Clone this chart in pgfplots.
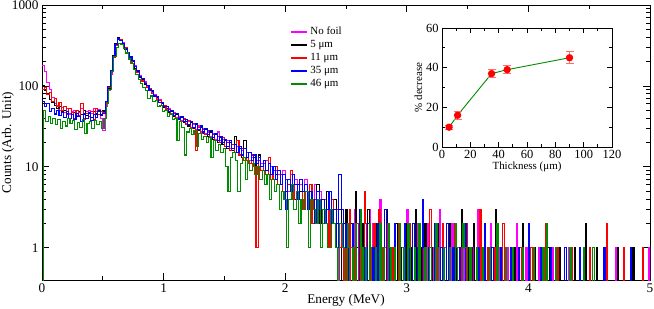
\documentclass[border=0pt]{standalone}
\usepackage{fontspec}
\setmainfont{Liberation Serif}
\usepackage{pgfplots}
\usepackage{pgfplotstable}
\pgfplotsset{compat=1.18}
\definecolor{gmag}{RGB}{255,0,255}
\definecolor{gred}{RGB}{255,0,0}
\definecolor{gblue}{RGB}{0,0,255}
\definecolor{ggreen}{RGB}{0,140,0}
\definecolor{errred}{RGB}{255,110,110}

% counts; 0.1 stands for an empty bin (drawn below the axis)
\pgfplotstableread[row sep=\\]{
x y\\
0.00 180\\ 0.02 150\\ 0.04 110\\ 0.06 90\\ 0.08 72\\ 0.10 60\\ 0.12 58\\ 0.14 50\\ 0.16 54\\ 0.18 47\\
0.20 52\\ 0.22 45\\ 0.24 48\\ 0.26 50\\ 0.28 43\\ 0.30 47\\ 0.32 52\\ 0.34 44\\ 0.36 48\\ 0.38 50\\
0.40 46\\ 0.42 53\\ 0.44 48\\ 0.46 51\\ 0.48 40\\ 0.50 28\\ 0.52 55\\ 0.54 88\\ 0.56 140\\ 0.58 225\\
0.60 320\\ 0.62 380\\ 0.64 375\\ 0.66 340\\ 0.68 300\\ 0.70 262\\ 0.72 230\\ 0.74 198\\ 0.76 178\\ 0.78 150\\
0.80 135\\ 0.82 118\\ 0.84 112\\ 0.86 97\\ 0.88 94\\ 0.90 84\\ 0.92 79\\ 0.94 71\\ 0.96 68\\ 0.98 58\\
1.00 57\\ 1.02 51\\ 1.04 52\\ 1.06 45\\ 1.08 47\\ 1.10 41\\ 1.12 42\\ 1.14 37\\ 1.16 40\\ 1.18 34\\
1.20 36\\ 1.22 31\\ 1.24 33\\ 1.26 29\\ 1.28 32\\ 1.30 27\\ 1.32 30\\ 1.34 26\\ 1.36 27\\ 1.38 24\\
1.40 26\\ 1.42 22\\ 1.44 27\\ 1.46 21\\ 1.48 22\\ 1.50 18\\ 1.52 21\\ 1.54 17\\ 1.56 19\\ 1.58 15\\
1.60 18\\ 1.62 14\\ 1.64 16\\ 1.66 13\\ 1.68 15\\ 1.70 12\\ 1.72 13\\ 1.74 11\\ 1.76 12\\ 1.78 10\\
1.80 11\\ 1.82 9\\ 1.84 12\\ 1.86 8\\ 1.88 10\\ 1.90 7\\ 1.92 9\\ 1.94 8\\ 1.96 6\\ 1.98 9\\
2.00 7\\ 2.02 5\\ 2.04 8\\ 2.06 6\\ 2.08 7\\ 2.10 4\\ 2.12 6\\ 2.14 5\\ 2.16 7\\ 2.18 3\\
2.20 5\\ 2.22 4\\ 2.24 6\\ 2.26 3\\ 2.28 5\\ 2.30 2\\ 2.32 4\\ 2.34 3\\ 2.36 5\\ 2.38 2\\
2.40 3\\ 2.42 1\\ 2.44 0.1\\ 2.46 3\\ 2.48 2\\
2.50 2\\ 2.52 0.1\\ 2.53 1\\ 2.55 0.1\\ 2.57 3\\ 2.58 0.1\\ 2.61 2\\ 2.62 1\\ 2.63 0.1\\ 2.66 1\\ 2.67 0.1\\
2.69 3\\ 2.70 0.1\\ 2.72 2\\ 2.73 0.1\\ 2.75 1\\ 2.76 0.1\\ 2.78 4\\ 2.79 0.1\\ 2.81 1\\ 2.83 0.1\\ 2.85 2\\ 2.86 0.1\\
2.89 1\\ 2.90 0.1\\ 2.92 2\\ 2.93 0.1\\ 2.96 1\\ 2.97 0.1\\ 3.00 3\\ 3.01 0.1\\ 3.04 1\\ 3.05 0.1\\ 3.08 2\\ 3.09 0.1\\
3.12 1\\ 3.13 0.1\\ 3.17 2\\ 3.18 0.1\\ 3.22 1\\ 3.23 0.1\\ 3.27 3\\ 3.28 0.1\\ 3.31 1\\ 3.33 0.1\\ 3.37 2\\ 3.38 0.1\\
3.42 1\\ 3.43 0.1\\ 3.47 2\\ 3.48 0.1\\ 3.52 1\\ 3.53 0.1\\ 3.58 3\\ 3.59 0.1\\ 3.63 1\\ 3.64 0.1\\ 3.69 2\\ 3.70 0.1\\
3.76 1\\ 3.77 0.1\\ 3.83 1\\ 3.84 0.1\\ 3.90 2\\ 3.91 0.1\\ 3.98 1\\ 3.99 0.1\\ 4.08 1\\ 4.09 0.1\\ 4.20 1\\ 4.21 0.1\\
4.33 1\\ 4.34 0.1\\ 4.47 1\\ 4.48 0.1\\ 4.72 1\\ 4.73 0.1\\ 4.99 1\\ 5.00 0.1\\
}\nofoil

\pgfplotstableread[row sep=\\]{
x y\\
0.00 100\\ 0.02 88\\ 0.04 80\\ 0.06 68\\ 0.08 62\\ 0.10 58\\ 0.12 52\\ 0.14 56\\ 0.16 48\\ 0.18 50\\
0.20 46\\ 0.22 52\\ 0.24 44\\ 0.26 47\\ 0.28 42\\ 0.30 48\\ 0.32 44\\ 0.34 50\\ 0.36 43\\ 0.38 46\\
0.40 41\\ 0.42 48\\ 0.44 45\\ 0.46 50\\ 0.48 44\\ 0.50 49\\ 0.52 60\\ 0.54 92\\ 0.56 150\\ 0.58 235\\
0.60 330\\ 0.62 395\\ 0.64 370\\ 0.66 330\\ 0.68 285\\ 0.70 258\\ 0.72 222\\ 0.74 200\\ 0.76 165\\ 0.78 150\\
0.80 128\\ 0.82 120\\ 0.84 104\\ 0.86 100\\ 0.88 88\\ 0.90 85\\ 0.92 74\\ 0.94 72\\ 0.96 63\\ 0.98 61\\
1.00 54\\ 1.02 53\\ 1.04 47\\ 1.06 48\\ 1.08 42\\ 1.10 44\\ 1.12 38\\ 1.14 41\\ 1.16 35\\ 1.18 36\\
1.20 32\\ 1.22 35\\ 1.24 30\\ 1.26 33\\ 1.28 28\\ 1.30 31\\ 1.32 26\\ 1.34 29\\ 1.36 24\\ 1.38 27\\
1.40 22\\ 1.42 25\\ 1.44 20\\ 1.46 23\\ 1.48 19\\ 1.50 21\\ 1.52 17\\ 1.54 20\\ 1.56 16\\ 1.58 24\\
1.60 15\\ 1.62 17\\ 1.64 13\\ 1.66 21\\ 1.68 12\\ 1.70 15\\ 1.72 11\\ 1.74 13\\ 1.76 10\\ 1.78 14\\
1.80 9\\ 1.82 12\\ 1.84 8\\ 1.86 11\\ 1.88 7\\ 1.90 10\\ 1.92 8\\ 1.94 9\\ 1.96 6\\ 1.98 8\\
2.00 5\\ 2.02 7\\ 2.04 6\\ 2.06 8\\ 2.08 4\\ 2.10 6\\ 2.12 5\\ 2.14 3\\ 2.16 6\\ 2.18 4\\
2.20 5\\ 2.22 3\\ 2.24 4\\ 2.26 6\\ 2.28 2\\ 2.30 4\\ 2.32 3\\ 2.34 5\\ 2.36 2\\ 2.38 3\\
2.40 4\\ 2.42 2\\ 2.44 3\\ 2.46 0.1\\ 2.48 2\\
2.50 3\\ 2.51 1\\ 2.52 0.1\\ 2.54 2\\ 2.55 0.1\\ 2.58 5\\ 2.59 1\\ 2.60 0.1\\ 2.63 2\\ 2.64 0.1\\ 2.67 1\\ 2.68 3\\ 2.69 0.1\\
2.71 1\\ 2.72 0.1\\ 2.74 2\\ 2.75 0.1\\ 2.79 1\\ 2.80 0.1\\ 2.83 3\\ 2.84 0.1\\ 2.87 1\\ 2.88 0.1\\ 2.91 2\\ 2.92 0.1\\
2.95 1\\ 2.96 0.1\\ 2.99 2\\ 3.00 0.1\\ 3.03 1\\ 3.04 0.1\\ 3.07 3\\ 3.08 0.1\\ 3.11 1\\ 3.12 0.1\\ 3.15 2\\ 3.16 0.1\\
3.20 1\\ 3.21 0.1\\ 3.25 2\\ 3.26 0.1\\ 3.30 1\\ 3.31 0.1\\ 3.35 2\\ 3.36 0.1\\ 3.41 1\\ 3.42 0.1\\ 3.45 3\\ 3.46 0.1\\
3.50 1\\ 3.51 0.1\\ 3.55 2\\ 3.56 0.1\\ 3.61 1\\ 3.62 0.1\\ 3.67 1\\ 3.68 0.1\\ 3.73 3\\ 3.74 0.1\\ 3.80 1\\ 3.81 0.1\\
3.88 1\\ 3.89 0.1\\ 3.95 2\\ 3.96 0.1\\ 4.05 1\\ 4.06 0.1\\ 4.16 1\\ 4.17 0.1\\ 4.25 1\\ 4.26 0.1\\ 4.38 1\\ 4.39 0.1\\
4.47 2\\ 4.48 0.1\\ 4.56 1\\ 4.57 0.1\\ 4.73 1\\ 4.74 0.1\\ 4.86 1\\ 4.87 0.1\\ 5.00 0.1\\
}\five

\pgfplotstableread[row sep=\\]{
x y\\
0.00 90\\ 0.02 95\\ 0.04 78\\ 0.06 82\\ 0.08 65\\ 0.10 70\\ 0.12 55\\ 0.14 62\\ 0.16 50\\ 0.18 56\\
0.20 44\\ 0.22 52\\ 0.24 47\\ 0.26 40\\ 0.28 50\\ 0.30 43\\ 0.32 60\\ 0.34 39\\ 0.36 46\\ 0.38 42\\
0.40 48\\ 0.42 38\\ 0.44 52\\ 0.46 44\\ 0.48 48\\ 0.50 47\\ 0.52 62\\ 0.54 95\\ 0.56 145\\ 0.58 228\\
0.60 318\\ 0.62 388\\ 0.64 372\\ 0.66 338\\ 0.68 295\\ 0.70 250\\ 0.72 232\\ 0.74 190\\ 0.76 175\\ 0.78 145\\
0.80 132\\ 0.82 115\\ 0.84 110\\ 0.86 95\\ 0.88 92\\ 0.90 80\\ 0.92 77\\ 0.94 68\\ 0.96 66\\ 0.98 57\\
1.00 58\\ 1.02 50\\ 1.04 51\\ 1.06 44\\ 1.08 46\\ 1.10 40\\ 1.12 41\\ 1.14 36\\ 1.16 39\\ 1.18 33\\
1.20 37\\ 1.22 30\\ 1.24 34\\ 1.26 16\\ 1.28 31\\ 1.30 26\\ 1.32 29\\ 1.34 25\\ 1.36 28\\ 1.38 23\\
1.40 25\\ 1.42 21\\ 1.44 24\\ 1.46 20\\ 1.48 23\\ 1.50 18\\ 1.52 20\\ 1.54 16\\ 1.56 19\\ 1.58 15\\
1.60 21\\ 1.62 14\\ 1.64 17\\ 1.66 12\\ 1.68 15\\ 1.70 11\\ 1.72 14\\ 1.74 10\\ 1.76 1\\ 1.78 12\\
1.80 9\\ 1.82 11\\ 1.84 8\\ 1.86 13\\ 1.88 7\\ 1.90 9\\ 1.92 10\\ 1.94 6\\ 1.96 8\\ 1.98 5\\
2.00 7\\ 2.02 6\\ 2.04 9\\ 2.06 4\\ 2.08 6\\ 2.10 5\\ 2.12 7\\ 2.14 3\\ 2.16 5\\ 2.18 4\\
2.20 6\\ 2.22 2\\ 2.24 4\\ 2.26 5\\ 2.28 3\\ 2.30 4\\ 2.32 2\\ 2.34 3\\ 2.36 1\\ 2.38 4\\
2.40 2\\ 2.42 3\\ 2.44 1\\ 2.46 2\\ 2.48 0.1\\
2.50 2\\ 2.51 0.1\\ 2.53 3\\ 2.54 0.1\\ 2.56 1\\ 2.57 0.1\\ 2.59 2\\ 2.60 0.1\\ 2.62 1\\ 2.63 0.1\\ 2.65 5\\ 2.66 2\\ 2.67 0.1\\
2.70 1\\ 2.71 0.1\\ 2.73 2\\ 2.74 0.1\\ 2.77 3\\ 2.78 0.1\\ 2.80 1\\ 2.81 0.1\\ 2.84 2\\ 2.85 0.1\\ 2.88 1\\ 2.89 0.1\\
2.93 2\\ 2.94 0.1\\ 2.97 1\\ 2.98 0.1\\ 3.02 2\\ 3.03 0.1\\ 3.06 1\\ 3.07 0.1\\ 3.10 2\\ 3.11 0.1\\ 3.14 1\\ 3.15 0.1\\
3.19 3\\ 3.20 0.1\\ 3.24 1\\ 3.25 0.1\\ 3.29 2\\ 3.30 0.1\\ 3.34 1\\ 3.35 0.1\\ 3.39 2\\ 3.40 0.1\\ 3.44 1\\ 3.45 0.1\\
3.49 2\\ 3.50 0.1\\ 3.54 1\\ 3.55 0.1\\ 3.60 3\\ 3.61 0.1\\ 3.66 1\\ 3.67 0.1\\ 3.72 1\\ 3.73 0.1\\ 3.79 2\\ 3.80 0.1\\
3.86 1\\ 3.87 0.1\\ 3.93 1\\ 3.94 0.1\\ 4.02 1\\ 4.03 0.1\\ 4.14 2\\ 4.15 0.1\\ 4.24 1\\ 4.25 0.1\\ 4.35 1\\ 4.36 0.1\\
4.50 1\\ 4.51 0.1\\ 4.64 2\\ 4.65 0.1\\ 4.78 1\\ 4.79 0.1\\ 4.94 1\\ 4.95 0.1\\ 5.00 0.1\\
}\eleven

\pgfplotstableread[row sep=\\]{
x y\\
0.00 65\\ 0.02 55\\ 0.04 60\\ 0.06 48\\ 0.08 52\\ 0.10 45\\ 0.12 50\\ 0.14 43\\ 0.16 47\\ 0.18 41\\
0.20 48\\ 0.22 40\\ 0.24 44\\ 0.26 38\\ 0.28 46\\ 0.30 42\\ 0.32 36\\ 0.34 45\\ 0.36 40\\ 0.38 47\\
0.40 37\\ 0.42 44\\ 0.44 41\\ 0.46 48\\ 0.48 43\\ 0.50 46\\ 0.52 64\\ 0.54 98\\ 0.56 155\\ 0.58 232\\
0.60 325\\ 0.62 380\\ 0.64 368\\ 0.66 330\\ 0.68 292\\ 0.70 262\\ 0.72 228\\ 0.74 205\\ 0.76 172\\ 0.78 155\\
0.80 130\\ 0.82 125\\ 0.84 106\\ 0.86 102\\ 0.88 89\\ 0.90 87\\ 0.92 75\\ 0.94 74\\ 0.96 63\\ 0.98 63\\
1.00 55\\ 1.02 55\\ 1.04 48\\ 1.06 50\\ 1.08 43\\ 1.10 46\\ 1.12 39\\ 1.14 42\\ 1.16 36\\ 1.18 38\\
1.20 33\\ 1.22 36\\ 1.24 31\\ 1.26 34\\ 1.28 29\\ 1.30 32\\ 1.32 27\\ 1.34 30\\ 1.36 25\\ 1.38 28\\
1.40 23\\ 1.42 26\\ 1.44 21\\ 1.46 24\\ 1.48 20\\ 1.50 22\\ 1.52 18\\ 1.54 21\\ 1.56 17\\ 1.58 19\\
1.60 15\\ 1.62 18\\ 1.64 14\\ 1.66 17\\ 1.68 13\\ 1.70 15\\ 1.72 12\\ 1.74 14\\ 1.76 11\\ 1.78 13\\
1.80 10\\ 1.82 12\\ 1.84 9\\ 1.86 11\\ 1.88 8\\ 1.90 10\\ 1.92 7\\ 1.94 9\\ 1.96 6\\ 1.98 8\\
2.00 3\\ 2.02 7\\ 2.04 5\\ 2.06 8\\ 2.08 6\\ 2.10 4\\ 2.12 7\\ 2.14 5\\ 2.16 6\\ 2.18 3\\
2.20 5\\ 2.22 4\\ 2.24 2\\ 2.26 5\\ 2.28 3\\ 2.30 4\\ 2.32 2\\ 2.34 3\\ 2.36 5\\ 2.38 2\\
2.40 3\\ 2.42 1\\ 2.44 8\\ 2.46 3\\ 2.48 1\\
2.50 2\\ 2.51 0.1\\ 2.52 1\\ 2.53 0.1\\ 2.55 2\\ 2.56 0.1\\ 2.58 1\\ 2.59 0.1\\ 2.61 3\\ 2.62 0.1\\ 2.64 1\\ 2.65 0.1\\
2.68 2\\ 2.69 0.1\\ 2.72 1\\ 2.73 0.1\\ 2.76 2\\ 2.77 0.1\\ 2.82 3\\ 2.83 0.1\\ 2.86 1\\ 2.87 0.1\\ 2.90 2\\ 2.91 0.1\\
2.94 1\\ 2.95 0.1\\ 2.98 2\\ 2.99 0.1\\ 3.01 1\\ 3.02 0.1\\ 3.05 2\\ 3.06 0.1\\ 3.09 1\\ 3.10 0.1\\ 3.13 4\\ 3.14 1\\
3.16 0.1\\ 3.18 1\\ 3.20 0.1\\ 3.23 2\\ 3.24 0.1\\ 3.28 1\\ 3.29 0.1\\ 3.33 2\\ 3.34 0.1\\ 3.38 1\\ 3.39 0.1\\
3.43 1\\ 3.44 0.1\\ 3.48 2\\ 3.49 0.1\\ 3.53 1\\ 3.54 0.1\\ 3.59 1\\ 3.60 0.1\\ 3.64 2\\ 3.65 0.1\\ 3.70 1\\ 3.71 0.1\\
3.77 1\\ 3.78 0.1\\ 3.85 1\\ 3.86 0.1\\ 3.92 1\\ 3.93 0.1\\ 4.00 2\\ 4.01 0.1\\ 4.10 1\\ 4.11 0.1\\ 4.18 1\\ 4.19 0.1\\
4.30 1\\ 4.31 0.1\\ 4.42 1\\ 4.43 0.1\\ 4.62 1\\ 4.63 0.1\\ 4.84 1\\ 4.85 0.1\\ 5.00 0.1\\
}\thirtyfive

\pgfplotstableread[row sep=\\]{
x y\\
0.00 0.1\\ 0.01 50\\ 0.03 36\\ 0.05 42\\ 0.07 34\\ 0.09 40\\ 0.11 33\\ 0.13 38\\ 0.15 30\\ 0.17 36\\ 0.19 32\\
0.21 40\\ 0.23 34\\ 0.25 37\\ 0.27 29\\ 0.29 35\\ 0.31 31\\ 0.33 38\\ 0.35 26\\ 0.37 34\\ 0.39 36\\
0.41 30\\ 0.43 37\\ 0.45 33\\ 0.47 36\\ 0.49 30\\ 0.51 40\\ 0.53 60\\ 0.55 90\\ 0.57 150\\ 0.59 230\\
0.61 300\\ 0.63 335\\ 0.65 325\\ 0.67 290\\ 0.69 255\\ 0.71 215\\ 0.73 188\\ 0.75 160\\ 0.77 140\\ 0.79 120\\
0.81 108\\ 0.83 96\\ 0.85 88\\ 0.87 70\\ 0.89 75\\ 0.91 64\\ 0.93 66\\ 0.95 56\\ 0.97 58\\ 0.99 48\\
1.01 50\\ 1.03 42\\ 1.05 45\\ 1.07 38\\ 1.09 40\\ 1.11 21\\ 1.13 36\\ 1.15 31\\ 1.17 14\\ 1.19 27\\
1.21 30\\ 1.23 25\\ 1.25 28\\ 1.27 18\\ 1.29 26\\ 1.31 22\\ 1.33 24\\ 1.35 20\\ 1.37 23\\ 1.39 13\\
1.41 21\\ 1.43 16\\ 1.45 19\\ 1.47 15\\ 1.49 17\\ 1.51 10\\ 1.53 5\\ 1.55 13\\ 1.57 15\\ 1.59 12\\
1.61 5\\ 1.63 11\\ 1.65 13\\ 1.67 7\\ 1.69 12\\ 1.71 9\\ 1.73 11\\ 1.75 8\\ 1.77 10\\ 1.79 7\\
1.81 9\\ 1.83 6\\ 1.85 8\\ 1.87 4\\ 1.89 7\\ 1.91 5\\ 1.93 6\\ 1.95 3\\ 1.97 5\\ 1.99 4\\
2.01 1\\ 2.03 4\\ 2.05 6\\ 2.07 3\\ 2.09 5\\ 2.11 2\\ 2.13 4\\ 2.15 3\\ 2.17 5\\ 2.19 1\\
2.21 4\\ 2.23 3\\ 2.25 2\\ 2.27 4\\ 2.29 1\\ 2.31 3\\ 2.33 2\\ 2.35 1\\ 2.37 3\\ 2.39 2\\
2.41 1\\ 2.43 0.1\\ 2.45 2\\ 2.47 1\\ 2.49 0.1\\
2.51 2\\ 2.52 1\\ 2.53 0.1\\ 2.55 1\\ 2.56 0.1\\ 2.58 2\\ 2.59 0.1\\ 2.62 3\\ 2.63 1\\ 2.64 0.1\\ 2.66 1\\ 2.67 0.1\\
2.69 2\\ 2.70 1\\ 2.71 0.1\\ 2.74 1\\ 2.75 0.1\\ 2.78 2\\ 2.79 0.1\\ 2.81 1\\ 2.82 0.1\\ 2.85 2\\ 2.86 1\\ 2.87 0.1\\
2.90 1\\ 2.91 0.1\\ 2.94 2\\ 2.95 0.1\\ 2.97 1\\ 2.98 0.1\\ 3.01 2\\ 3.02 1\\ 3.03 0.1\\ 3.06 1\\ 3.07 0.1\\
3.10 2\\ 3.11 0.1\\ 3.15 1\\ 3.16 0.1\\ 3.19 1\\ 3.20 0.1\\ 3.24 2\\ 3.25 1\\ 3.26 0.1\\ 3.30 1\\ 3.31 0.1\\
3.35 1\\ 3.36 0.1\\ 3.40 2\\ 3.41 1\\ 3.42 0.1\\ 3.46 2\\ 3.47 1\\ 3.49 0.1\\ 3.52 1\\ 3.53 0.1\\ 3.57 1\\ 3.58 0.1\\
3.62 1\\ 3.63 0.1\\ 3.68 1\\ 3.69 0.1\\ 3.74 2\\ 3.75 0.1\\ 3.81 1\\ 3.82 0.1\\ 3.87 1\\ 3.88 0.1\\ 3.95 1\\ 3.96 0.1\\
4.04 1\\ 4.05 0.1\\ 4.12 1\\ 4.13 0.1\\ 4.15 2\\ 4.16 0.1\\ 4.22 1\\ 4.23 0.1\\ 4.34 1\\ 4.35 0.1\\ 4.45 1\\ 4.46 0.1\\
4.53 1\\ 4.54 0.1\\ 5.00 0.1\\
}\fortysix

\pgfplotstableread[row sep=\\]{
t d e\\
5 10 1\\
11 16 2\\
35 37 2\\
46 39 2\\
90 45 3\\
}\decrease

\begin{document}
\begin{tikzpicture}
\useasboundingbox (-42bp,-29bp) rectangle (612bp,280bp);
\begin{axis}[
  at={(0,0)}, anchor=south west,
  width=608bp, height=275bp, scale only axis,
  xmin=0, xmax=5, ymode=log, ymin=0.4, ymax=1000,
  xtick={0,1,2,3,4,5}, minor x tick num=1,
  ytick={1,10,100,1000}, yticklabels={1,10,100,1000},
  /pgf/number format/assume math mode=true,
  tick align=inside,
  major tick length=7bp, minor tick length=4bp,
  axis line style={line width=0.9bp},
  every tick/.style={line width=0.8bp, black},
  tick label style={font=\fontsize{13.3}{15}\selectfont},
  label style={font=\fontsize{13.3}{15}\selectfont},
  xlabel={Energy (MeV)}, ylabel={Counts (Arb. Unit)},
  xlabel style={at={(axis description cs:0.5,0)}, anchor=center, yshift=-20bp},
  ylabel style={at={(axis description cs:0,0.5)}, anchor=center, yshift=34bp},
  legend style={at={(0.403,0.935)}, anchor=north west, draw=none, fill=none,
    font=\fontsize{11}{13}\selectfont, row sep=0.3bp},
  legend cell align=left,
  legend image code/.code={\draw[#1, line width=2.2bp] (0bp,0bp) -- (16bp,0bp);},
]
\addplot[const plot, draw=gmag, line width=1.1bp] table[x=x,y=y] {\nofoil};
\addlegendentry{No foil}
\addplot[const plot, draw=black, line width=1.1bp] table[x=x,y=y] {\five};
\addlegendentry{5 μm}
\addplot[const plot, draw=gred, line width=1.1bp] table[x=x,y=y] {\eleven};
\addlegendentry{11 μm}
\addplot[const plot, draw=gblue, line width=1.1bp] table[x=x,y=y] {\thirtyfive};
\addlegendentry{35 μm}
\addplot[const plot, draw=ggreen, line width=1.1bp] table[x=x,y=y] {\fortysix};
\addlegendentry{46 μm}
\end{axis}
\begin{axis}[
  at={(400bp,133bp)}, anchor=south west,
  width=170bp, height=119bp, scale only axis,
  xmin=0, xmax=120, ymin=0, ymax=60,
  xtick={0,20,...,120}, ytick={0,20,40,60},
  minor x tick num=1, minor y tick num=1,
  /pgf/number format/assume math mode=true,
  tick align=inside,
  major tick length=5bp, minor tick length=3bp,
  axis line style={line width=0.8bp},
  every tick/.style={line width=0.7bp, black},
  tick label style={font=\fontsize{12.5}{14}\selectfont},
  label style={font=\fontsize{11}{13}\selectfont},
  xlabel={Thickness (μm)}, ylabel={\% decrease},
  xlabel style={yshift=4bp},
  ylabel style={yshift=-3bp},
  axis background/.style={fill=white},
]
\addplot[ggreen, line width=0.9bp, mark=*, mark size=3.2bp,
  mark options={draw=red, fill=red},
  error bars/.cd, y dir=both, y explicit,
  error bar style={errred, line width=0.9bp},
  error mark options={rotate=90, errred, mark size=4bp, line width=0.9bp}]
  table[x=t, y=d, y error=e] {\decrease};
\end{axis}
\end{tikzpicture}
\end{document}
